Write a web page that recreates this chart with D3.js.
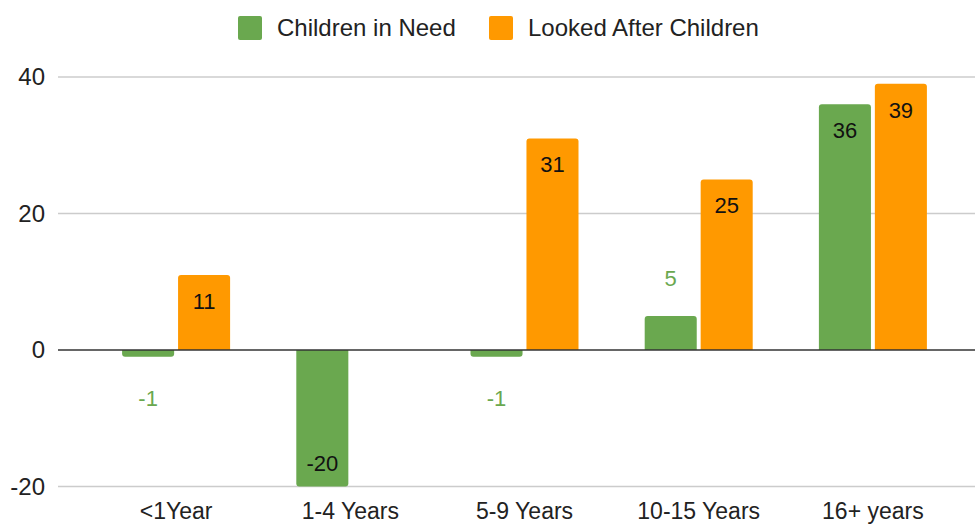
<!DOCTYPE html>
<html><head><meta charset="utf-8">
<script src="https://cdn.jsdelivr.net/npm/d3@7"></script>
<style>body{margin:0;background:#fff}svg{display:block;font-family:"Liberation Sans",Arial,sans-serif}</style>
</head><body><svg id="c" width="975" height="524"></svg>
<script>
const categories = ["<1Year", "1-4 Years", "5-9 Years", "10-15 Years", "16+ years"];
const seriesNames = ["Children in Need", "Looked After Children"];
const childrenInNeed = [-1, -20, -1, 5, 36];
const lookedAfter = [11, null, 31, 25, 39];
const yTicks = [-20, 0, 20, 40];
const colors = ["#6aa84f", "#ff9900"];

const svg = d3.select("#c");
const x0 = d3.scaleBand().domain(categories).range([89, 960]).paddingInner(0.38).paddingOuter(0.19);
const x1 = d3.scaleBand().domain(seriesNames).range([0, x0.bandwidth()]).paddingInner(0.07);
const y = d3.scaleLinear().domain([-20, 40]).range([486.5, 77]);

// gridlines
svg.append("g").selectAll("line").data(yTicks.filter(t => t !== 0)).join("line")
  .attr("x1", 58).attr("x2", 975).attr("y1", d => y(d)).attr("y2", d => y(d))
  .attr("stroke", "#ccc").attr("stroke-width", 1.5);

// y tick labels
svg.append("g").selectAll("text").data(yTicks).join("text")
  .attr("x", 45).attr("y", d => y(d)).attr("dy", "0.35em").attr("text-anchor", "end")
  .attr("font-size", 24).attr("fill", "#222").text(d => d);

const rows = categories.map((c, i) => ({c, vals: [childrenInNeed[i], lookedAfter[i]]}));
const bars = [];
rows.forEach(r => r.vals.forEach((v, j) => { if (v !== null) bars.push({c: r.c, s: seriesNames[j], v, j}); }));

function barPath(d) {
  const x = x0(d.c) + x1(d.s), w = x1.bandwidth();
  const y0 = y(0), ye = y(d.v), r = Math.min(3, Math.abs(ye - y0));
  if (d.v >= 0) {
    return `M${x},${y0}V${ye + r}Q${x},${ye} ${x + r},${ye}H${x + w - r}Q${x + w},${ye} ${x + w},${ye + r}V${y0}Z`;
  } else {
    return `M${x},${y0}V${ye - r}Q${x},${ye} ${x + r},${ye}H${x + w - r}Q${x + w},${ye} ${x + w},${ye - r}V${y0}Z`;
  }
}
svg.append("g").selectAll("path").data(bars).join("path")
  .attr("d", barPath).attr("fill", d => colors[d.j]);

// zero line
svg.append("line").attr("x1", 58).attr("x2", 975).attr("y1", y(0)).attr("y2", y(0))
  .attr("stroke", "#333").attr("stroke-width", 1.5);

// value labels
svg.append("g").selectAll("text").data(bars).join("text")
  .attr("x", d => x0(d.c) + x1(d.s) + x1.bandwidth() / 2)
  .attr("y", d => {
    const h = Math.abs(y(d.v) - y(0));
    const inside = h > 50;
    if (d.v >= 0) return inside ? y(d.v) + 26 : y(d.v) - 38;
    return inside ? y(d.v) - 23 : y(d.v) + 41;
  })
  .attr("dy", "0.35em").attr("text-anchor", "middle").attr("font-size", 22)
  .attr("fill", d => Math.abs(y(d.v) - y(0)) > 50 ? "#111" : colors[0])
  .text(d => d.v);

// x labels
svg.append("g").selectAll("text").data(categories).join("text")
  .attr("x", d => x0(d) + x0.bandwidth() / 2).attr("y", 511).attr("dy", "0.35em")
  .attr("text-anchor", "middle").attr("font-size", 23).attr("fill", "#222").text(d => d);

// legend
const legend = svg.append("g");
const legX = [238, 489];
seriesNames.forEach((s, i) => {
  legend.append("rect").attr("x", legX[i]).attr("y", 16).attr("width", 24).attr("height", 24)
    .attr("rx", 2).attr("fill", colors[i]);
  legend.append("text").attr("x", legX[i] + 39).attr("y", 28).attr("dy", "0.35em")
    .attr("font-size", 24).attr("fill", "#222").text(s);
});
</script></body></html>
